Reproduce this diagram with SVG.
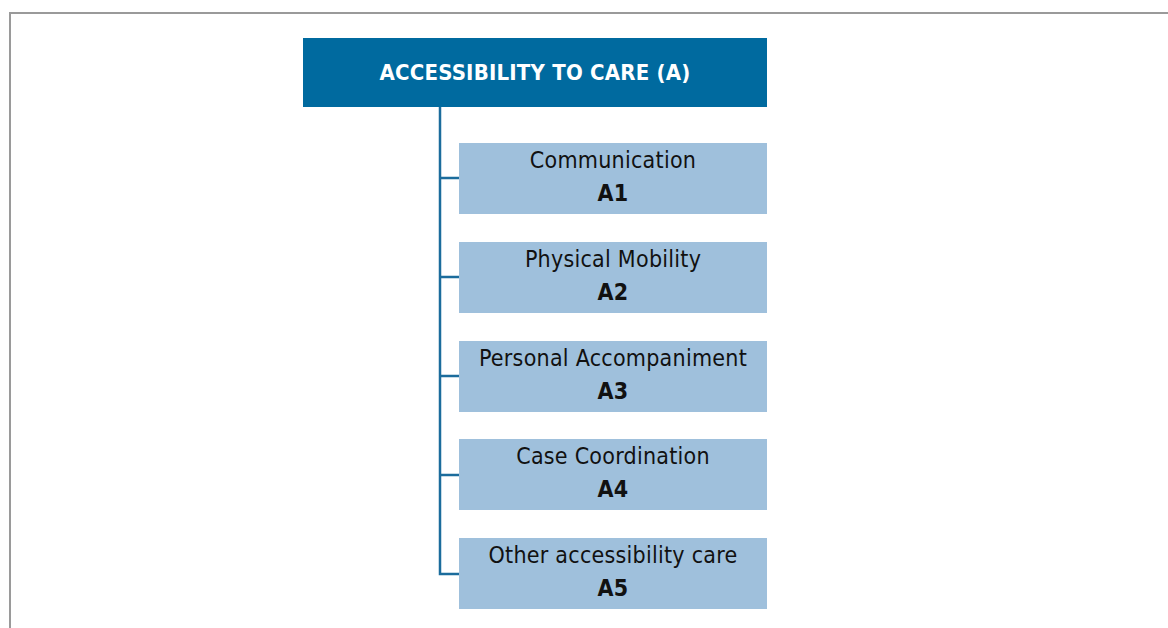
<svg xmlns="http://www.w3.org/2000/svg" width="1168" height="628" viewBox="0 0 1168 628">
<style>
.frame{fill:none;stroke:#9a9a9a;stroke-width:2}
.head{fill:#006a9f}
.headt{fill:#ffffff;font-family:"DejaVu Sans Condensed","DejaVu Sans",sans-serif;font-weight:bold;font-size:22px;letter-spacing:0.2px;text-anchor:middle}
.box{fill:#9fc0dc}
.t{fill:#111111;font-family:"DejaVu Sans Condensed","DejaVu Sans",sans-serif;font-size:23px;letter-spacing:0.25px;text-anchor:middle}
.b{font-weight:bold}
.c{fill:none;stroke:#1b6c9c;stroke-width:2.5}
</style>
<rect width="1168" height="628" fill="#ffffff"/>
<path class="frame" d="M10 628 V13 H1168"/>
<g id="connectors">
<path class="c" d="M440 107 V574 H459"/>
<path class="c" d="M440 178 H459 M440 277 H459 M440 376 H459 M440 475 H459"/>
</g>
<g id="header">
<rect class="head" x="303" y="38" width="464" height="69"/>
<text class="headt" x="535" y="80">ACCESSIBILITY TO CARE (A)</text>
</g>
<g id="A1">
<rect class="box" x="459" y="143" width="308" height="71"/>
<text class="t" x="613" y="168">Communication</text>
<text class="t b" x="613" y="201">A1</text>
</g>
<g id="A2">
<rect class="box" x="459" y="242" width="308" height="71"/>
<text class="t" x="613" y="267">Physical Mobility</text>
<text class="t b" x="613" y="300">A2</text>
</g>
<g id="A3">
<rect class="box" x="459" y="341" width="308" height="71"/>
<text class="t" x="613" y="366">Personal Accompaniment</text>
<text class="t b" x="613" y="399">A3</text>
</g>
<g id="A4">
<rect class="box" x="459" y="439" width="308" height="71"/>
<text class="t" x="613" y="464">Case Coordination</text>
<text class="t b" x="613" y="497">A4</text>
</g>
<g id="A5">
<rect class="box" x="459" y="538" width="308" height="71"/>
<text class="t" x="613" y="563">Other accessibility care</text>
<text class="t b" x="613" y="596">A5</text>
</g>
</svg>
